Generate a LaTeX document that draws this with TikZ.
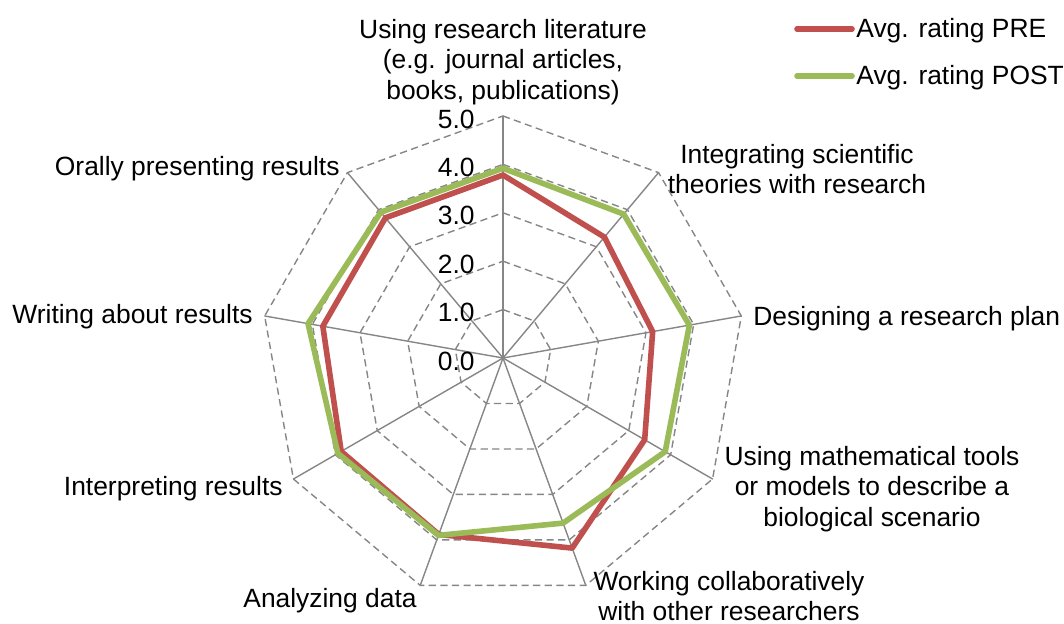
\documentclass[tikz,border=0pt]{standalone}
\usepackage{fontspec}
\setmainfont{Liberation Sans}
\usepackage{tikz}
\definecolor{prered}{HTML}{C0504D}
\definecolor{postgreen}{HTML}{9BBB59}
\definecolor{gridgray}{HTML}{868686}
\newcommand{\ratingunit}{48.4}

\begin{document}
\begin{tikzpicture}[line cap=round,line join=round,x=0.5pt,y=0.5pt,
  ring/.style={color=gridgray,line width=0.7pt,dash pattern=on 3.6pt off 2.2pt,line cap=butt},
  spoke/.style={color=gridgray,line width=0.7pt},
  preline/.style={color=prered,line width=2.8pt},
  postline/.style={color=postgreen,line width=2.8pt},
  lbl/.style={font=\fontsize{13.2}{15.3}\selectfont,inner sep=0pt,align=center}]
\useasboundingbox (-503,-266) rectangle (561,358);
\coordinate (o) at (0,0);

%ringit
\foreach \r in {1,...,5}
{
\draw[ring] (90:{\r*\ratingunit}) \foreach \k in {1,...,8} { -- ({90-40*\k}:{\r*\ratingunit}) } -- cycle;
}
%akselit
\foreach \k in {0,...,8}
{
\coordinate (a\k) at ({90-40*\k}:{5*\ratingunit});
\draw[spoke] (o) -- (a\k);
}
%asteikko
\foreach \r in {0,...,5}
{
\node[lbl,anchor=east] (v\r) at (-28,{\r*\ratingunit-3}) {\r.0};
}

%PRE
\draw[preline] (90:{3.78*\ratingunit})
  \foreach \a/\v in {50/3.26,10/3.14,-30/3.38,-70/4.18,-110/3.88,-150/3.86,170/3.78,130/3.78}
  { -- (\a:{\v*\ratingunit}) } -- cycle;
%POST
\draw[postline] (90:{3.92*\ratingunit})
  \foreach \a/\v in {50/3.88,10/3.91,-30/3.87,-70/3.63,-110/3.9,-150/3.94,170/4.09,130/3.93}
  { -- (\a:{\v*\ratingunit}) } -- cycle;

%kategoriat
\node[lbl] (c0) at (0,296) {Using research literature\\(e.g. journal articles,\\books, publications)};
\node[lbl] (c1) at (294,189) {Integrating scientific\\theories with research};
\node[lbl,anchor=west] (c2) at (250,39) {Designing a research plan};
\node[lbl] (c3) at (369,-131) {Using mathematical tools\\or models to describe a\\biological scenario};
\node[lbl] (c4) at (226,-238) {Working collaboratively\\with other researchers};
\node[lbl] (c5) at (-173,-243) {Analyzing data};
\node[lbl,anchor=east] (c6) at (-220,-131) {Interpreting results};
\node[lbl,anchor=east] (c7) at (-250,41) {Writing about results};
\node[lbl,anchor=east] (c8) at (-163,189) {Orally presenting results};

%selite
\coordinate (pre0) at (294,329);
\coordinate (pre1) at (349,329);
\draw[preline] (pre0) -- (pre1);
\node[lbl,anchor=west] (preleg) at (353,327) {Avg. rating PRE};
\coordinate (post0) at (294,282);
\coordinate (post1) at (349,282);
\draw[postline] (post0) -- (post1);
\node[lbl,anchor=west] (postleg) at (353,280) {Avg. rating POST};
\end{tikzpicture}
\end{document}
